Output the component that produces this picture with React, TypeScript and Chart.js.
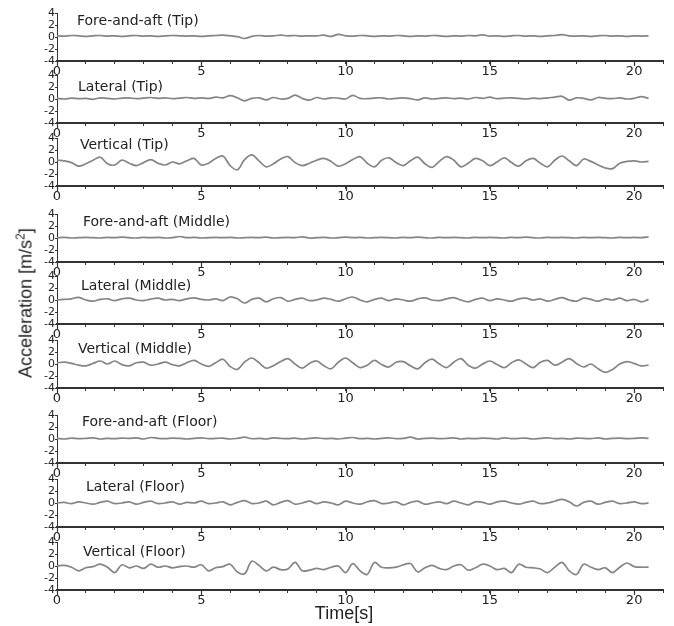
import React, { useEffect, useRef } from "react";
import { Chart, registerables } from "chart.js";

Chart.register(...registerables);

// ---------- data ----------
const TIME = [
  0, 0.25, 0.5, 0.75, 1, 1.25, 1.5, 1.75, 2, 2.25, 2.5, 2.75, 3, 3.25, 3.5, 3.75,
  4, 4.25, 4.5, 4.75, 5, 5.25, 5.5, 5.75, 6, 6.25, 6.5, 6.75, 7, 7.25, 7.5, 7.75,
  8, 8.25, 8.5, 8.75, 9, 9.25, 9.5, 9.75, 10, 10.25, 10.5, 10.75, 11, 11.25, 11.5, 11.75,
  12, 12.25, 12.5, 12.75, 13, 13.25, 13.5, 13.75, 14, 14.25, 14.5, 14.75, 15, 15.25, 15.5, 15.75,
  16, 16.25, 16.5, 16.75, 17, 17.25, 17.5, 17.75, 18, 18.25, 18.5, 18.75, 19, 19.25, 19.5, 19.75,
  20, 20.25, 20.5,
];

const X_TICKS = [0, 5, 10, 15, 20];
const Y_TICKS = [-4, -2, 0, 2, 4];

const TITLES = [
  "Fore-and-aft (Tip)",
  "Lateral (Tip)",
  "Vertical (Tip)",
  "Fore-and-aft (Middle)",
  "Lateral (Middle)",
  "Vertical (Middle)",
  "Fore-and-aft (Floor)",
  "Lateral (Floor)",
  "Vertical (Floor)",
];

const FORE_TIP = [
  0.2, 0.15, 0.25, 0.2, 0.1, 0.2, 0.25, 0.15, 0.2, 0.1, 0.2, 0.25, 0.15, 0.2, 0.1, 0.2,
  0.25, 0.2, 0.15, 0.2, 0.1, 0.2, 0.25, 0.3, 0.2, 0.05, -0.25, 0.1, 0.25, 0.15, 0.2, 0.3,
  0.2, 0.25, 0.15, 0.2, 0.2, 0.3, 0.1, 0.45, 0.2, 0.15, 0.25, 0.2, 0.1, 0.2, 0.15, 0.25,
  0.2, 0.1, 0.2, 0.15, 0.25, 0.2, 0.1, 0.2, 0.15, 0.25, 0.2, 0.35, 0.15, 0.2, 0.1, 0.2,
  0.25, 0.15, 0.2, 0.1, 0.2, 0.25, 0.4, 0.2, 0.15, 0.2, 0.1, 0.2, 0.25, 0.15, 0.2, 0.1,
  0.2, 0.15, 0.2,
];

const LAT_TIP = [
  0.1, 0.0, 0.15, 0.05, 0.1, -0.05, 0.2, 0.1, 0.0, 0.15, 0.2, 0.05, 0.15, 0.25, 0.1, 0.2,
  0.05, 0.15, 0.25, 0.1, 0.2, 0.1, 0.3, 0.2, 0.55, 0.2, -0.3, 0.1, 0.2, -0.15, 0.25, 0.0,
  0.1, 0.65, 0.1, -0.2, 0.25, 0.0, 0.2, 0.15, 0.0, 0.6, 0.1, 0.05, 0.15, 0.2, 0.0, 0.1,
  0.2, 0.05, -0.15, 0.2, 0.0, 0.1, 0.2, 0.05, 0.15, 0.0, 0.25, 0.1, 0.3, 0.05, 0.15, 0.2,
  0.1, 0.0, 0.15, 0.05, 0.2, 0.3, 0.45, -0.2, 0.2, 0.1, -0.15, 0.25, 0.1, 0.05, 0.2, 0.0,
  0.1, 0.4, 0.1,
];

const VERT_TIP = [
  0.3, 0.2, -0.1, -0.7, -0.3, 0.3, 0.8, -0.3, -0.5, 0.3, -0.2, -0.6, -0.1, 0.4, -0.2, -0.5,
  0.0, -0.3, 0.2, 0.6, -0.5, -0.2, 0.6, 1.0, -0.6, -1.3, 0.4, 1.2, 0.2, -0.8, -0.3, 0.5,
  0.9, -0.1, -0.6, -0.2, 0.3, 0.6, 0.1, -0.7, -0.3, 0.4, 0.9, -0.2, -0.8, 0.3, 0.7, -0.1,
  -0.6, 0.2, 0.8, -0.3, -0.9, 0.1, 0.9, 0.3, -0.8, -0.2, 0.6, 0.2, -0.6, 0.0, 0.7, -0.1,
  -0.7, 0.2, 0.6, -0.2, -0.8, 0.3, 1.0, 0.2, -0.6, 0.5, 0.1, -0.5, -1.0, -1.1, -0.2, 0.1,
  0.2, 0.0, 0.1,
];

const FORE_MID = [
  0.05, 0.1, 0.0, 0.05, 0.1, 0.05, 0.0, 0.1, 0.05, 0.15, 0.05, 0.0, 0.1, 0.05, 0.1, 0.0,
  0.05, 0.25, 0.05, 0.1, 0.0, 0.05, 0.1, 0.05, 0.1, 0.0, 0.05, 0.1, 0.05, 0.15, 0.0, 0.05,
  0.1, 0.05, 0.2, 0.0, 0.05, 0.1, 0.0, 0.05, 0.15, 0.05, 0.1, 0.0, 0.05, 0.1, 0.05, 0.0,
  0.1, 0.05, 0.15, 0.05, 0.0, 0.1, 0.05, 0.1, 0.05, 0.0, 0.1, 0.05, 0.1, 0.05, 0.0, 0.1,
  0.05, 0.15, 0.05, 0.0, 0.1, 0.05, 0.1, 0.05, 0.0, 0.1, 0.05, 0.1, 0.05, 0.0, 0.1, 0.05,
  0.1, 0.05, 0.2,
];

const LAT_MID = [
  0.0, 0.1, 0.2, 0.45, 0.0, -0.2, 0.1, 0.2, -0.1, 0.2, 0.3, 0.0, -0.1, 0.15, 0.3, 0.0,
  0.1, -0.1, 0.2, 0.35, 0.1, 0.0, 0.2, -0.1, 0.5, 0.2, -0.5, 0.1, 0.3, -0.3, 0.2, 0.4,
  -0.2, 0.1, 0.3, -0.1, 0.0, 0.3, 0.1, -0.2, 0.2, 0.5, 0.0, -0.3, 0.1, 0.3, -0.1, 0.2,
  0.0, -0.2, 0.2, 0.35, 0.0, -0.1, 0.2, 0.4, 0.0, -0.3, 0.1, 0.3, -0.1, 0.2, 0.0, -0.2,
  0.2, 0.3, 0.0, 0.2, -0.2, 0.1, 0.4, 0.0, -0.2, 0.3, 0.1, -0.2, 0.2, 0.0, 0.3, -0.1,
  0.1, -0.3, 0.1,
];

const VERT_MID = [
  0.2, 0.3, 0.1, -0.2, -0.3, 0.1, 0.5, 0.0, 0.5, -0.1, -0.3, 0.2, 0.3, -0.2, 0.0, 0.3,
  -0.1, -0.3, 0.2, 0.6, 0.0, -0.4, 0.2, 0.8, -0.4, -0.9, 0.3, 1.0, 0.2, -0.7, -0.3, 0.4,
  0.9, 0.0, -0.7, 0.1, 0.5, -0.3, -0.8, 0.3, 1.0, 0.2, -0.6, -0.2, 0.6, -0.1, -0.5, 0.3,
  0.4, -0.3, -0.8, 0.2, 0.8, 0.0, -0.6, 0.3, 0.9, -0.2, -0.7, 0.0, 0.5, -0.1, -0.6, 0.2,
  0.7, 0.0, -0.6, 0.3, 0.6, -0.2, 0.3, 0.9, 0.1, -0.5, 0.0, -0.8, -1.4, -0.9, 0.0, 0.4,
  0.1, -0.3, -0.2,
];

const FORE_FLOOR = [
  0.1, 0.0, 0.15, 0.05, 0.1, 0.2, 0.0, 0.1, 0.05, 0.15, 0.1, 0.2, 0.0, 0.25, 0.1, 0.05,
  0.15, 0.1, 0.0, 0.1, 0.2, 0.05, 0.1, 0.15, 0.0, 0.1, 0.3, 0.05, 0.1, 0.0, 0.2, 0.1,
  0.05, 0.15, 0.0, 0.1, 0.2, 0.05, 0.1, 0.0, 0.15, 0.25, 0.05, 0.1, 0.0, 0.1, 0.2, 0.05,
  0.1, 0.3, 0.0, 0.1, 0.15, 0.05, 0.1, 0.2, 0.0, 0.1, 0.05, 0.15, 0.1, 0.0, 0.2, 0.05,
  0.1, 0.15, 0.0, 0.1, 0.2, 0.05, 0.1, 0.0, 0.15, 0.1, 0.05, 0.2, 0.0, 0.1, 0.15, 0.05,
  0.1, 0.2, 0.1,
];

const LAT_FLOOR = [
  0.0, 0.1, -0.1, 0.2, 0.0, -0.2, 0.1, 0.3, -0.1, 0.0, 0.2, -0.2, 0.1, 0.3, -0.1, 0.0,
  0.2, -0.2, 0.1, 0.0, 0.3, -0.1, 0.0, 0.2, -0.3, 0.1, 0.4, -0.1, 0.0, 0.3, -0.3, 0.1,
  0.4, -0.2, 0.0, 0.3, -0.1, 0.2, 0.0, -0.3, 0.3, 0.0, -0.2, 0.2, 0.4, -0.1, 0.0, 0.2,
  -0.3, 0.1, 0.3, -0.2, 0.0, 0.2, -0.1, 0.3, 0.0, -0.3, 0.2, 0.1, -0.2, 0.2, 0.3, 0.0,
  -0.2, 0.1, 0.3, -0.1, 0.0, 0.3, 0.6, 0.2, -0.5, 0.1, 0.3, -0.2, 0.1, 0.3, -0.1, 0.0,
  0.2, -0.1, 0.0,
];

const VERT_FLOOR = [
  0.0, 0.1, -0.2, -0.8, -0.3, -0.1, 0.3, -0.2, -1.1, 0.2, -0.3, 0.0, -0.4, 0.3, -0.2, 0.0,
  -0.3, -0.1, 0.0, -0.2, 0.2, -0.8, -0.3, -0.1, 0.3, -1.0, -1.3, 0.8, 0.1, -0.8, -0.2, -0.6,
  -0.5, 0.6, -0.8, -0.7, -0.4, -0.6, -0.2, 0.0, -1.1, 0.4, -0.8, -1.4, 0.6, -0.2, -0.3, -0.2,
  0.2, 0.4, -1.0, -0.3, 0.1, -0.4, -0.6, 0.0, 0.2, -0.7, -0.3, 0.3, 0.0, -0.6, -0.4, -1.1,
  0.3, -0.2, -0.3, -0.5, -1.1, -0.2, 0.6, -0.8, -1.4, 0.3, -0.2, -0.6, -0.3, -1.1, -0.2, 0.5,
  -0.1, -0.2, -0.2,
];

const SERIES = [
  FORE_TIP, LAT_TIP, VERT_TIP,
  FORE_MID, LAT_MID, VERT_MID,
  FORE_FLOOR, LAT_FLOOR, VERT_FLOOR,
];

// ---------- layout (pixels) ----------
const W = 674;
const H = 626;
const PANEL_BOTTOMS = [61, 123, 186, 262, 324, 388, 463, 527, 590];
const PANEL_H = 48;
const PAD_TOP = 10;
const XAXIS_H = 20;
const AXIS_LEFT = 57;
const PLOT_RIGHT = 663;
const TITLE_X = [77, 78, 80, 83, 81, 78, 82, 86, 83];
const TITLE_DY = [8, 12, 7, 8, 10, 9, 7, 8, 10];

const FONT = "'Liberation Sans', Arial, sans-serif";
const TITLE_FONT = "'DejaVu Sans', sans-serif";
const LINE_COLOR = "#858585";
const AXIS_COLOR = "#333333";
const TEXT_COLOR = "#222222";

function Panel({ index }: { index: number }) {
  const ref = useRef<HTMLCanvasElement>(null);
  const top = PANEL_BOTTOMS[index] - PANEL_H - PAD_TOP;
  const height = PAD_TOP + PANEL_H + XAXIS_H;

  useEffect(() => {
    if (!ref.current) return;
    const titlePlugin = {
      id: "panelTitle",
      afterDraw(chart: any) {
        const ctx = chart.ctx;
        ctx.save();
        ctx.font = `14px ${TITLE_FONT}`;
        ctx.fillStyle = TEXT_COLOR;
        ctx.textBaseline = "middle";
        ctx.textAlign = "left";
        ctx.fillText(TITLES[index], TITLE_X[index], chart.chartArea.top + TITLE_DY[index]);
        // longer major ticks on the x axis
        const xs = chart.scales.x;
        ctx.strokeStyle = AXIS_COLOR;
        ctx.lineWidth = 1.2;
        for (const v of X_TICKS) {
          const px = Math.round(xs.getPixelForValue(v)) + 0.5;
          ctx.beginPath();
          ctx.moveTo(px, chart.chartArea.bottom);
          ctx.lineTo(px, chart.chartArea.bottom + 5);
          ctx.stroke();
        }
        ctx.restore();
      },
    };
    const chart = new Chart(ref.current, {
      type: "line",
      data: {
        datasets: [
          {
            data: TIME.map((t, i) => ({ x: t, y: SERIES[index][i] })),
            borderColor: LINE_COLOR,
            borderWidth: 1.7,
            pointRadius: 0,
            tension: 0.35,
            fill: false,
          },
        ],
      },
      options: {
        responsive: false,
        animation: false,
        events: [],
        layout: { padding: { top: PAD_TOP, right: W - PLOT_RIGHT, left: 0, bottom: 0 } },
        plugins: {
          legend: { display: false },
          tooltip: { enabled: false },
          title: { display: false },
        },
        scales: {
          x: {
            type: "linear",
            min: 0,
            max: 21,
            afterFit: (s: any) => {
              s.height = XAXIS_H;
            },
            afterBuildTicks: (s: any) => {
              const arr = [];
              for (let v = 0; v <= 21; v++) arr.push({ value: v });
              s.ticks = arr;
            },
            ticks: {
              autoSkip: false,
              maxRotation: 0,
              padding: 0,
              color: TEXT_COLOR,
              font: { family: TITLE_FONT, size: 13 },
              callback: (v: any) => (X_TICKS.includes(Number(v)) ? String(v) : ""),
            },
            grid: {
              drawOnChartArea: false,
              drawTicks: true,
              tickLength: 3,
              color: AXIS_COLOR,
              lineWidth: 1,
            },
            border: { display: true, color: AXIS_COLOR, width: 2 },
          },
          y: {
            min: -4,
            max: 4,
            afterFit: (s: any) => {
              s.width = AXIS_LEFT;
            },
            afterBuildTicks: (s: any) => {
              s.ticks = Y_TICKS.map((v) => ({ value: v }));
            },
            ticks: {
              autoSkip: false,
              padding: 0,
              color: TEXT_COLOR,
              font: { family: TITLE_FONT, size: 11, lineHeight: 1 },
              callback: (v: any) => String(v),
            },
            grid: {
              drawOnChartArea: false,
              drawTicks: true,
              tickLength: 2,
              color: AXIS_COLOR,
            },
            border: { display: true, color: AXIS_COLOR, width: 1 },
          },
        },
      },
      plugins: [titlePlugin],
    } as any);
    return () => chart.destroy();
  }, [index]);

  return (
    <canvas
      ref={ref}
      width={W}
      height={height}
      style={{ position: "absolute", left: 0, top, width: W, height }}
    />
  );
}

export default function App() {
  return (
    <div
      style={{
        position: "absolute",
        left: 0,
        top: 0,
        width: W,
        height: H,
        background: "#ffffff",
        overflow: "hidden",
      }}
    >
      {TITLES.map((_, i) => (
        <Panel key={i} index={i} />
      ))}
      <div
        style={{
          position: "absolute",
          left: 25,
          top: 303,
          transform: "translate(-50%, -50%) rotate(-90deg)",
          whiteSpace: "nowrap",
          font: `18px ${FONT}`,
          color: TEXT_COLOR,
        }}
      >
        Acceleration [m/s<sup style={{ fontSize: "12px" }}>2</sup>]
      </div>
      <div
        style={{
          position: "absolute",
          left: 344,
          top: 613,
          transform: "translate(-50%, -50%)",
          whiteSpace: "nowrap",
          font: `18px ${FONT}`,
          color: TEXT_COLOR,
        }}
      >
        Time[s]
      </div>
    </div>
  );
}
